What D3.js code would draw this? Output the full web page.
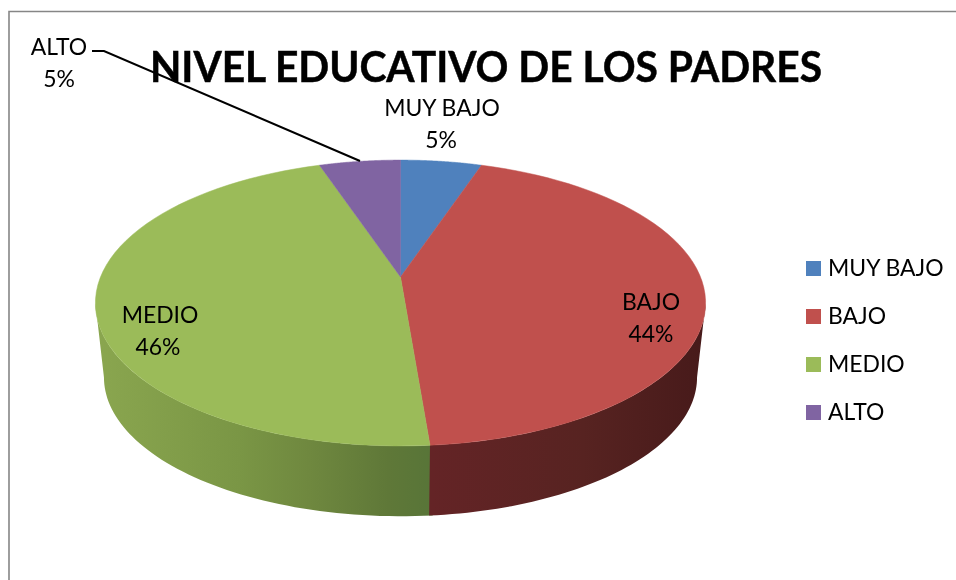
<!DOCTYPE html>
<html><head><meta charset="utf-8">
<style>html,body{margin:0;padding:0;background:#fff}svg{display:block;filter:blur(0.35px)}text{font-family:Lato,"Open Sans",sans-serif;fill:#000}</style>
<script src="https://cdn.jsdelivr.net/npm/d3@7"></script></head>
<body><svg id="c" width="956" height="580"></svg>
<script>
const categories = ["MUY BAJO","BAJO","MEDIO","ALTO"];
const counts = [2,17,18,2];
const percentLabels = ["5%","44%","46%","5%"];
const colors = ["#4f81bd","#c0504d","#9bbb59","#8064a2"];
const titleText = "NIVEL EDUCATIVO DE LOS PADRES";

const svg = d3.select("#c");
const defs = svg.append("defs");
function grad(id, stops){
  const g = defs.append("linearGradient").attr("id",id).attr("gradientUnits","userSpaceOnUse")
    .attr("x1",96).attr("x2",705).attr("y1",0).attr("y2",0);
  stops.forEach(s=>g.append("stop").attr("offset",s[0]).attr("stop-color",s[1]));
}
grad("wallG",[[0,"#8aa64f"],[0.236,"#7a9645"],[0.35,"#6f883f"],[0.48,"#5f7838"],[0.55,"#587538"]]);
grad("wallR",[[0.55,"#642426"],[0.8,"#572321"],[1,"#471a1a"]]);

// perspective projection of the pie disc
const k = 0.182, A = 300, B = 138.2;
const cx = 400.5, cy = 277;
const project = (a, ox, oy, s) => {
  const x = Math.sin(a), y = -Math.cos(a), w = 1 - k*y;
  return [ox + s*A*x/w, oy + s*B*y/w];
};
const top_ = a => project(a, cx, cy, 1);
const bot = a => project(a, cx, 352, 0.972);
const sweep = (f,a0,a1) => d3.range(0,61).map(i=>f(a0+(a1-a0)*i/60));
const line = d3.line();

const arcs = d3.pie().sort(null).value(d=>d)(counts);

// side walls, between the two points where the rim is widest
const split = arcs[1].endAngle;
const edge = Math.acos(-k);
const wallAngles = [[split-0.01,2*Math.PI-edge,"url(#wallG)"],[edge,split,"url(#wallR)"]];
svg.selectAll("path.wall").data(wallAngles).join("path").attr("class","wall")
  .attr("fill",d=>d[2])
  .attr("d",d=>line(sweep(top_,d[0],d[1]).concat(sweep(bot,d[0],d[1]).reverse()))+"Z");

// top face
svg.selectAll("path.slice").data(arcs).join("path").attr("class","slice")
  .attr("fill",(d,i)=>colors[i])
  .attr("stroke",(d,i)=>colors[i]).attr("stroke-width",0.5)
  .attr("d",d=>line([[cx,cy]].concat(sweep(top_,d.startAngle,d.endAngle)))+"Z");

// frame
svg.append("path").attr("d","M9,580V11.5H956").attr("fill","none").attr("stroke","#868686").attr("stroke-width",1.6);

// leader
svg.append("path").attr("d","M92,51H104L360,161").attr("fill","none").attr("stroke","#000").attr("stroke-width",2);

// title
svg.append("text").attr("x",486).attr("y",82).attr("text-anchor","middle")
  .attr("font-size",42.5).attr("font-weight",700)
  .attr("stroke","#000").attr("stroke-width",0.5)
  .attr("textLength",672).attr("lengthAdjust","spacingAndGlyphs").text(titleText);

const squeeze = sel => sel.each(function(){
  d3.select(this).attr("textLength",this.getComputedTextLength()*0.955).attr("lengthAdjust","spacingAndGlyphs");
});

// data labels
const labelPos = [[442,116,441,148],[651,310,651,342],[160,323,158,355],[59,55,59,87]];
labelPos.forEach((p,i)=>{
  const g = svg.append("g").attr("font-size",24).attr("text-anchor","middle");
  g.append("text").attr("x",p[0]).attr("y",p[1]).text(categories[i]).call(squeeze);
  g.append("text").attr("x",p[2]).attr("y",p[3]).text(percentLabels[i]).call(squeeze);
});

// legend
const ly = d3.scalePoint().domain(categories).range([261,405]);
const lg = svg.selectAll("g.lg").data(categories).join("g").attr("class","lg")
  .attr("transform",d=>`translate(806,${ly(d)})`);
lg.append("rect").attr("width",15).attr("height",15).attr("fill",(d,i)=>colors[i]);
lg.append("text").attr("x",22).attr("y",15).attr("font-size",24).text(d=>d).call(squeeze);
</script></body></html>
